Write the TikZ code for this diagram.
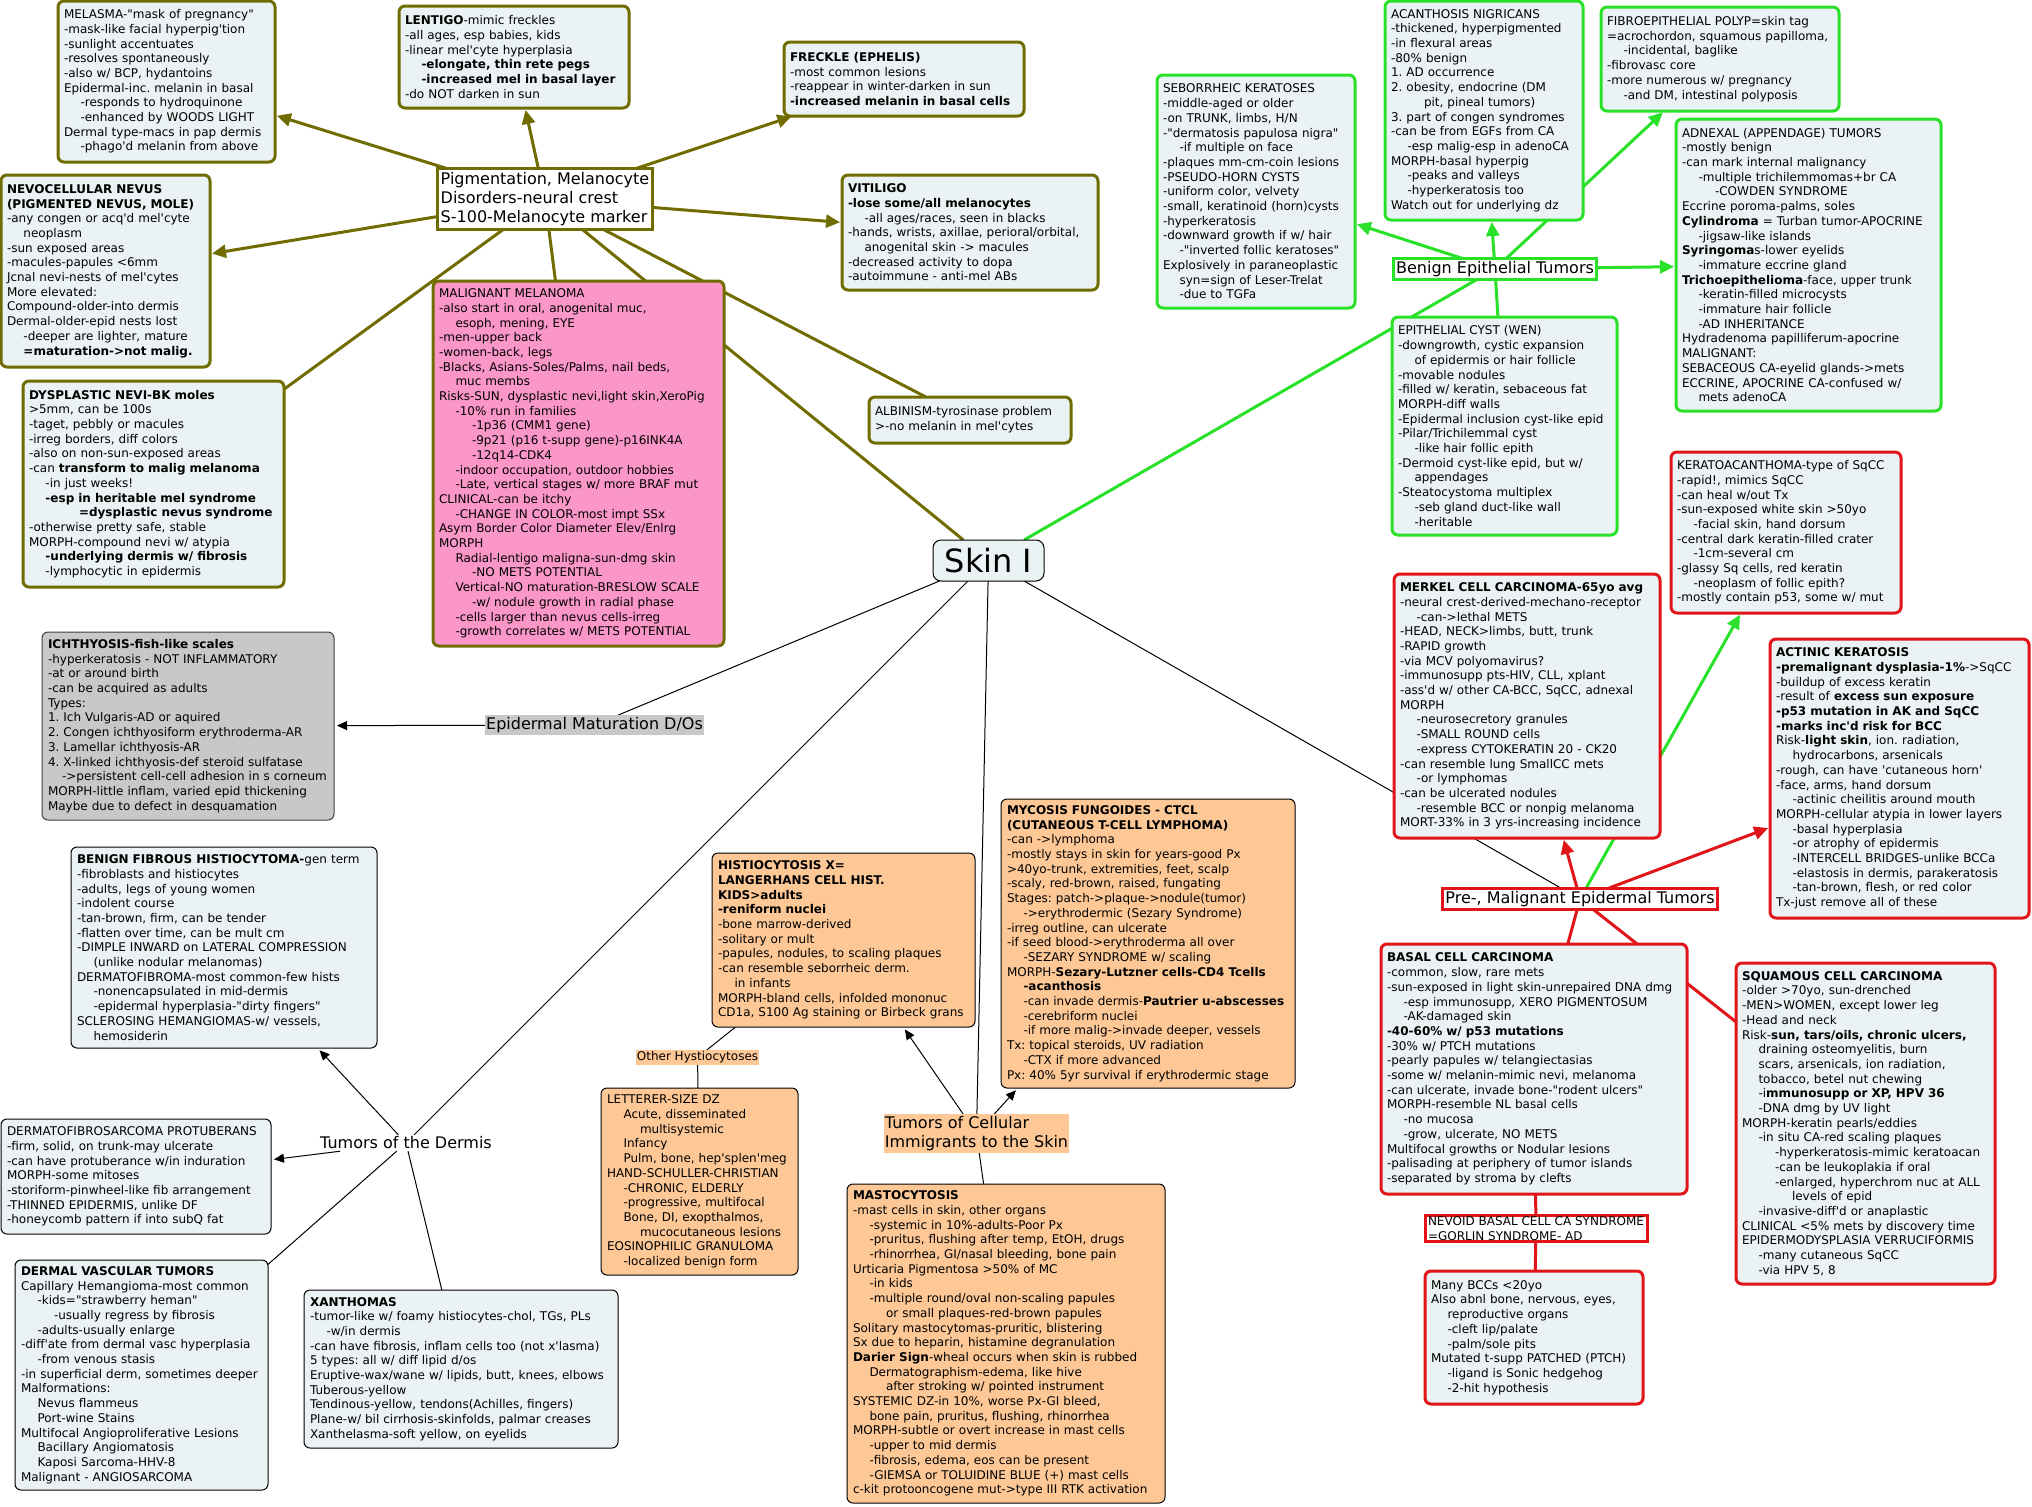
\documentclass[tikz,border=0pt]{standalone}
\usepackage{fontspec}
\setmainfont{DejaVu Sans}[Ligatures=TeXOff]
\usetikzlibrary{arrows.meta}
\definecolor{olv}{RGB}{112,108,0}
\definecolor{boxfill}{RGB}{234,242,244}
\definecolor{pinkfill}{RGB}{250,150,200}
\definecolor{grn}{RGB}{40,225,40}
\definecolor{rd}{RGB}{225,20,25}
\definecolor{orfill}{RGB}{253,200,150}
\definecolor{gyfill}{RGB}{200,200,200}
\newcommand\indA{\hspace*{16.5pt}}
\newcommand\indB{\hspace*{33pt}}
\newcommand\indC{\hspace*{50pt}}
\newcommand\nowrapskip{\rightskip=0pt plus 1fil minus 120pt\relax}
\frenchspacing
\pgfdeclarelayer{bgl}
\pgfdeclarelayer{edgel}
\pgfsetlayers{bgl,edgel,main}
\tikzset{
  bodyf/.style={font=\fontsize{12}{14.7}\selectfont\frenchspacing},
  base/.style={bodyf, rounded corners=6pt, align=left, inner xsep=6pt, inner ysep=3pt, outer sep=0pt, execute at begin node=\nowrapskip},
  box/.style 2 args={anchor=north west, text width=#1pt-12pt, minimum height=#2pt},
  olbox/.style={base, draw=olv, line width=3pt, fill=boxfill},
  pinkbox/.style={base, draw=olv, line width=3pt, fill=pinkfill},
  grbox/.style={base, draw=grn, line width=3pt, fill=boxfill},
  rdbox/.style={base, draw=rd, line width=3pt, fill=boxfill},
  bkbox/.style={base, draw=black, line width=1pt, fill=boxfill},
  orbox/.style={base, draw=black, line width=1pt, fill=orfill},
  gybox/.style={base, draw=black!75, line width=1pt, fill=gyfill},
  lbl/.style={font=\fontsize{16}{19.3}\selectfont, align=left, inner xsep=3pt, inner ysep=3pt, outer sep=0pt},
  ollbl/.style={lbl, draw=olv, line width=3pt, fill=white},
  grlbl/.style={lbl, draw=grn, line width=3pt, fill=white},
  rdlbl/.style={lbl, draw=rd, line width=3pt, fill=white},
  smallrdlbl/.style={font=\fontsize{12}{14.3}\selectfont, align=left, inner xsep=3pt, inner ysep=1.5pt, outer sep=0pt, draw=rd, line width=3pt, fill=white},
  plainlbl/.style={lbl, inner xsep=1pt, inner ysep=2pt},
  smalllbl/.style={bodyf, inner xsep=1pt, inner ysep=1.5pt, outer sep=0pt},
  skinbox/.style={font=\fontsize{32}{36}\selectfont, draw=black, line width=1pt, fill=boxfill, rounded corners=8pt, minimum width=111pt, minimum height=41pt, inner sep=0pt, outer sep=0pt},
  olE/.style={draw=olv, line width=3pt},
  olA/.style={olE, -{Triangle[length=14pt,width=13pt]}, shorten >=2pt},
  grE/.style={draw=grn, line width=3pt},
  grA/.style={grE, -{Triangle[length=14pt,width=13pt]}, shorten >=2pt},
  rdE/.style={draw=rd, line width=3pt},
  rdA/.style={rdE, -{Triangle[length=14pt,width=13pt]}, shorten >=2pt},
  bkE/.style={draw=black, line width=1pt},
  bkA/.style={bkE, -{Triangle[length=10pt,width=9pt]}, shorten >=3pt},
}
\begin{document}
\begin{tikzpicture}[x=1pt,y=-1pt]
\useasboundingbox (0,0) rectangle (2032,1507);
\begin{pgfonlayer}{bgl}
\fill[white] (0,0) rectangle (2032,1507);
\end{pgfonlayer}

% ---------- central ----------
\node[skinbox] (skin) at (988.5,560.5) {Skin I};

% ---------- pigmentation branch ----------
\node[ollbl] (pig) at (545,199) {Pigmentation, Melanocyte\\Disorders-neural crest\\S-100-Melanocyte marker};

\node[olbox, box={217}{161}] (melasma) at (58,1) {MELASMA-"mask of pregnancy"\\-mask-like facial hyperpig'tion\\-sunlight accentuates\\-resolves spontaneously\\-also w/ BCP, hydantoins\\Epidermal-inc. melanin in basal\\\indA-responds to hydroquinone\\\indA-enhanced by WOODS LIGHT\\Dermal type-macs in pap dermis\\\indA-phago'd melanin from above};

\node[olbox, box={230}{102}] (lentigo) at (399,6) {\textbf{LENTIGO}-mimic freckles\\-all ages, esp babies, kids\\-linear mel'cyte hyperplasia\\\indA\textbf{-elongate, thin rete pegs}\\\indA\textbf{-increased mel in basal layer}\\-do NOT darken in sun};

\node[olbox, box={240}{74}] (freckle) at (784,42) {\textbf{FRECKLE (EPHELIS)}\\-most common lesions\\-reappear in winter-darken in sun\\\textbf{-increased melanin in basal cells}};

\node[olbox, box={256}{115}] (vitiligo) at (842,175) {\textbf{VITILIGO}\\\textbf{-lose some/all melanocytes}\\\indA-all ages/races, seen in blacks\\-hands, wrists, axillae, perioral/orbital,\\\indA anogenital skin -> macules\\-decreased activity to dopa\\-autoimmune - anti-mel ABs};

\node[olbox, box={202}{46}] (albinism) at (869,397) {ALBINISM-tyrosinase problem\\>-no melanin in mel'cytes};

\node[olbox, box={209}{192}] (nevo) at (1,175) {\textbf{NEVOCELLULAR NEVUS}\\\textbf{(PIGMENTED NEVUS, MOLE)}\\-any congen or acq'd mel'cyte\\\indA neoplasm\\-sun exposed areas\\-macules-papules <6mm\\Jcnal nevi-nests of mel'cytes\\More elevated:\\Compound-older-into dermis\\Dermal-older-epid nests lost\\\indA-deeper are lighter, mature\\\indA\textbf{=maturation->not malig.}};

\node[olbox, box={261}{206}] (dysp) at (23,381) {\textbf{DYSPLASTIC NEVI-BK moles}\\>5mm, can be 100s\\-taget, pebbly or macules\\-irreg borders, diff colors\\-also on non-sun-exposed areas\\-can \textbf{transform to malig melanoma}\\\indA-in just weeks!\\\indA\textbf{-esp in heritable mel syndrome}\\\indC\textbf{=dysplastic nevus syndrome}\\-otherwise pretty safe, stable\\MORPH-compound nevi w/ atypia\\\indA\textbf{-underlying dermis w/ fibrosis}\\\indA-lymphocytic in epidermis};

\node[pinkbox, box={291}{365}] (mm) at (433,281) {MALIGNANT MELANOMA\\-also start in oral, anogenital muc,\\\indA esoph, mening, EYE\\-men-upper back\\-women-back, legs\\-Blacks, Asians-Soles/Palms, nail beds,\\\indA muc membs\\Risks-SUN, dysplastic nevi,light skin,XeroPig\\\indA-10\% run in families\\\indB-1p36 (CMM1 gene)\\\indB-9p21 (p16 t-supp gene)-p16INK4A\\\indB-12q14-CDK4\\\indA-indoor occupation, outdoor hobbies\\\indA-Late, vertical stages w/ more BRAF mut\\CLINICAL-can be itchy\\\indA-CHANGE IN COLOR-most impt SSx\\Asym Border Color Diameter Elev/Enlrg\\MORPH\\\indA Radial-lentigo maligna-sun-dmg skin\\\indB-NO METS POTENTIAL\\\indA Vertical-NO maturation-BRESLOW SCALE\\\indB-w/ nodule growth in radial phase\\\indA-cells larger than nevus cells-irreg\\\indA-growth correlates w/ METS POTENTIAL};

% ---------- benign epithelial branch ----------
\node[grlbl] (benign) at (1495,269) {Benign Epithelial Tumors};

\node[grbox, box={198}{233}] (sebor) at (1157,75) {SEBORRHEIC KERATOSES\\-middle-aged or older\\-on TRUNK, limbs, H/N\\-"dermatosis papulosa nigra"\\\indA-if multiple on face\\-plaques mm-cm-coin lesions\\-PSEUDO-HORN CYSTS\\-uniform color, velvety\\-small, keratinoid (horn)cysts\\-hyperkeratosis\\-downward growth if w/ hair\\\indA-"inverted follic keratoses"\\Explosively in paraneoplastic\\\indA syn=sign of Leser-Trelat\\\indA-due to TGFa};

\node[grbox, box={198}{219}] (acanth) at (1385,1) {ACANTHOSIS NIGRICANS\\-thickened, hyperpigmented\\-in flexural areas\\-80\% benign\\1. AD occurrence\\2. obesity, endocrine (DM\\\indB pit, pineal tumors)\\3. part of congen syndromes\\-can be from EGFs from CA\\\indA-esp malig-esp in adenoCA\\MORPH-basal hyperpig\\\indA-peaks and valleys\\\indA-hyperkeratosis too\\Watch out for underlying dz};

\node[grbox, box={238}{104}] (fibro) at (1601,7) {FIBROEPITHELIAL POLYP=skin tag\\=acrochordon, squamous papilloma,\\\indA-incidental, baglike\\-fibrovasc core\\-more numerous w/ pregnancy\\\indA-and DM, intestinal polyposis};

\node[grbox, box={265}{292}] (adnexal) at (1676,119) {ADNEXAL (APPENDAGE) TUMORS\\-mostly benign\\-can mark internal malignancy\\\indA-multiple trichilemmomas+br CA\\\indB-COWDEN SYNDROME\\Eccrine poroma-palms, soles\\\textbf{Cylindroma} = Turban tumor-APOCRINE\\\indA-jigsaw-like islands\\\textbf{Syringoma}s-lower eyelids\\\indA-immature eccrine gland\\\textbf{Trichoepithelioma}-face, upper trunk\\\indA-keratin-filled microcysts\\\indA-immature hair follicle\\\indA-AD INHERITANCE\\Hydradenoma papilliferum-apocrine\\MALIGNANT:\\SEBACEOUS CA-eyelid glands->mets\\ECCRINE, APOCRINE CA-confused w/\\\indA mets adenoCA};

\node[grbox, box={225}{218}] (cyst) at (1392,317) {EPITHELIAL CYST (WEN)\\-downgrowth, cystic expansion\\\indA of epidermis or hair follicle\\-movable nodules\\-filled w/ keratin, sebaceous fat\\MORPH-diff walls\\-Epidermal inclusion cyst-like epid\\-Pilar/Trichilemmal cyst\\\indA-like hair follic epith\\-Dermoid cyst-like epid, but w/\\\indA appendages\\-Steatocystoma multiplex\\\indA-seb gland duct-like wall\\\indA-heritable};

% ---------- pre-, malignant branch ----------
\node[rdlbl] (pre) at (1580,899) {Pre-, Malignant Epidermal Tumors};

\node[rdbox, box={230}{161}] (kerato) at (1671,452) {KERATOACANTHOMA-type of SqCC\\-rapid!, mimics SqCC\\-can heal w/out Tx\\-sun-exposed white skin >50yo\\\indA-facial skin, hand dorsum\\-central dark keratin-filled crater\\\indA-1cm-several cm\\-glassy Sq cells, red keratin\\\indA-neoplasm of follic epith?\\-mostly contain p53, some w/ mut};

\node[rdbox, box={266}{264}] (merkel) at (1394,574) {\textbf{MERKEL CELL CARCINOMA-65yo avg}\\-neural crest-derived-mechano-receptor\\\indA-can->lethal METS\\-HEAD, NECK>limbs, butt, trunk\\-RAPID growth\\-via MCV polyomavirus?\\-immunosupp pts-HIV, CLL, xplant\\-ass'd w/ other CA-BCC, SqCC, adnexal\\MORPH\\\indA-neurosecretory granules\\\indA-SMALL ROUND cells\\\indA-express CYTOKERATIN 20 - CK20\\-can resemble lung SmallCC mets\\\indA-or lymphomas\\-can be ulcerated nodules\\\indA-resemble BCC or nonpig melanoma\\MORT-33\% in 3 yrs-increasing incidence};

\node[rdbox, box={259}{279}] (actinic) at (1770,639) {\textbf{ACTINIC KERATOSIS}\\\textbf{-premalignant dysplasia-1\%}->SqCC\\-buildup of excess keratin\\-result of \textbf{excess sun exposure}\\\textbf{-p53 mutation in AK and SqCC}\\\textbf{-marks inc'd risk for BCC}\\Risk-\textbf{light skin}, ion. radiation,\\\indA hydrocarbons, arsenicals\\-rough, can have 'cutaneous horn'\\-face, arms, hand dorsum\\\indA-actinic cheilitis around mouth\\MORPH-cellular atypia in lower layers\\\indA-basal hyperplasia\\\indA-or atrophy of epidermis\\\indA-INTERCELL BRIDGES-unlike BCCa\\\indA-elastosis in dermis, parakeratosis\\\indA-tan-brown, flesh, or red color\\Tx-just remove all of these};

\node[rdbox, box={306}{250}] (bcc) at (1381,944) {\textbf{BASAL CELL CARCINOMA}\\-common, slow, rare mets\\-sun-exposed in light skin-unrepaired DNA dmg\\\indA-esp immunosupp, XERO PIGMENTOSUM\\\indA-AK-damaged skin\\\textbf{-40-60\% w/ p53 mutations}\\-30\% w/ PTCH mutations\\-pearly papules w/ telangiectasias\\-some w/ melanin-mimic nevi, melanoma\\-can ulcerate, invade bone-"rodent ulcers"\\MORPH-resemble NL basal cells\\\indA-no mucosa\\\indA-grow, ulcerate, NO METS\\Multifocal growths or Nodular lesions\\-palisading at periphery of tumor islands\\-separated by stroma by clefts};

\node[smallrdlbl] (nevoid) at (1536,1228.5) {NEVOID BASAL CELL CA SYNDROME\\=GORLIN SYNDROME- AD};

\node[rdbox, box={218}{133}] (manybcc) at (1425,1271) {Many BCCs <20yo\\Also abnl bone, nervous, eyes,\\\indA reproductive organs\\\indA-cleft lip/palate\\\indA-palm/sole pits\\Mutated t-supp PATCHED (PTCH)\\\indA-ligand is Sonic hedgehog\\\indA-2-hit hypothesis};

\node[rdbox, box={259}{321}] (scc) at (1736,963) {\textbf{SQUAMOUS CELL CARCINOMA}\\-older >70yo, sun-drenched\\-MEN>WOMEN, except lower leg\\-Head and neck\\Risk-\textbf{sun, tars/oils, chronic ulcers,}\\\indA draining osteomyelitis, burn\\\indA scars, arsenicals, ion radiation,\\\indA tobacco, betel nut chewing\\\indA-i\textbf{mmunosupp or XP, HPV 36}\\\indA-DNA dmg by UV light\\MORPH-keratin pearls/eddies\\\indA-in situ CA-red scaling plaques\\\indB-hyperkeratosis-mimic keratoacan\\\indB-can be leukoplakia if oral\\\indB-enlarged, hyperchrom nuc at ALL\\\indC levels of epid\\\indA-invasive-diff'd or anaplastic\\CLINICAL <5\% mets by discovery time\\EPIDERMODYSPLASIA VERRUCIFORMIS\\\indA-many cutaneous SqCC\\\indA-via HPV 5, 8};

% ---------- epidermal maturation ----------
\node[plainlbl, fill=gyfill] (epimat) at (594.5,725) {Epidermal Maturation D/Os};

\node[gybox, box={292}{188}] (ichth) at (42,632) {\textbf{ICHTHYOSIS-fish-like scales}\\-hyperkeratosis - NOT INFLAMMATORY\\-at or around birth\\-can be acquired as adults\\Types:\\1. Ich Vulgaris-AD or aquired\\2. Congen ichthyosiform erythroderma-AR\\3. Lamellar ichthyosis-AR\\4. X-linked ichthyosis-def steroid sulfatase\\\hspace*{14pt}->persistent cell-cell adhesion in s corneum\\MORPH-little inflam, varied epid thickening\\Maybe due to defect in desquamation};

% ---------- tumors of the dermis ----------
\node[plainlbl] (dermis) at (406,1143) {Tumors of the Dermis};

\node[bkbox, box={306}{201}] (bfh) at (71,847) {\textbf{BENIGN FIBROUS HISTIOCYTOMA-}gen term\\-fibroblasts and histiocytes\\-adults, legs of young women\\-indolent course\\-tan-brown, firm, can be tender\\-flatten over time, can be mult cm\\-DIMPLE INWARD on LATERAL COMPRESSION\\\indA(unlike nodular melanomas)\\DERMATOFIBROMA-most common-few hists\\\indA-nonencapsulated in mid-dermis\\\indA-epidermal hyperplasia-"dirty fingers"\\SCLEROSING HEMANGIOMAS-w/ vessels,\\\indA hemosiderin};

\node[bkbox, box={270}{115}] (dfsp) at (1,1119) {DERMATOFIBROSARCOMA PROTUBERANS\\-firm, solid, on trunk-may ulcerate\\-can have protuberance w/in induration\\MORPH-some mitoses\\-storiform-pinwheel-like fib arrangement\\-THINNED EPIDERMIS, unlike DF\\-honeycomb pattern if into subQ fat};

\node[bkbox, box={253}{230}] (dvt) at (15,1260) {\textbf{DERMAL VASCULAR TUMORS}\\Capillary Hemangioma-most common\\\indA-kids="strawberry heman"\\\indB-usually regress by fibrosis\\\indA-adults-usually enlarge\\-diff'ate from dermal vasc hyperplasia\\\indA-from venous stasis\\-in superficial derm, sometimes deeper\\Malformations:\\\indA Nevus flammeus\\\indA Port-wine Stains\\Multifocal Angioproliferative Lesions\\\indA Bacillary Angiomatosis\\\indA Kaposi Sarcoma-HHV-8\\Malignant - ANGIOSARCOMA};

\node[bkbox, box={314}{158}] (xanth) at (304,1290) {\textbf{XANTHOMAS}\\-tumor-like w/ foamy histiocytes-chol, TGs, PLs\\\indA-w/in dermis\\-can have fibrosis, inflam cells too (not x'lasma)\\5 types: all w/ diff lipid d/os\\Eruptive-wax/wane w/ lipids, butt, knees, elbows\\Tuberous-yellow\\Tendinous-yellow, tendons(Achilles, fingers)\\Plane-w/ bil cirrhosis-skinfolds, palmar creases\\Xanthelasma-soft yellow, on eyelids};

% ---------- cellular immigrants ----------
\node[plainlbl, fill=orfill] (immig) at (976.5,1133.5) {Tumors of Cellular\\Immigrants to the Skin};

\node[orbox, box={263}{174}] (histio) at (712,853) {\textbf{HISTIOCYTOSIS X=}\\\textbf{LANGERHANS CELL HIST.}\\\textbf{KIDS>adults}\\\textbf{-reniform nuclei}\\-bone marrow-derived\\-solitary or mult\\-papules, nodules, to scaling plaques\\-can resemble seborrheic derm.\\\indA in infants\\MORPH-bland cells, infolded mononuc\\CD1a, S100 Ag staining or Birbeck grans};

\node[smalllbl, fill=orfill] (otherh) at (697.5,1057.5) {Other Hystiocytoses};

\node[orbox, box={197}{187}] (letterer) at (601,1088) {LETTERER-SIZE DZ\\\indA Acute, disseminated\\\indB multisystemic\\\indA Infancy\\\indA Pulm, bone, hep'splen'meg\\HAND-SCHULLER-CHRISTIAN\\\indA-CHRONIC, ELDERLY\\\indA-progressive, multifocal\\\indA Bone, DI, exopthalmos,\\\indB mucocutaneous lesions\\EOSINOPHILIC GRANULOMA\\\indA-localized benign form};

\node[orbox, box={294}{289}] (mycosis) at (1001,799) {\textbf{MYCOSIS FUNGOIDES - CTCL}\\\textbf{(CUTANEOUS T-CELL LYMPHOMA)}\\-can ->lymphoma\\-mostly stays in skin for years-good Px\\>40yo-trunk, extremities, feet, scalp\\-scaly, red-brown, raised, fungating\\Stages: patch->plaque->nodule(tumor)\\\indA->erythrodermic (Sezary Syndrome)\\-irreg outline, can ulcerate\\-if seed blood->erythroderma all over\\\indA-SEZARY SYNDROME w/ scaling\\MORPH-\textbf{Sezary-Lutzner cells-CD4 Tcells}\\\indA\textbf{-acanthosis}\\\indA-can invade dermis-\textbf{Pautrier u-abscesses}\\\indA-cerebriform nuclei\\\indA-if more malig->invade deeper, vessels\\Tx: topical steroids, UV radiation\\\indA-CTX if more advanced\\Px: 40\% 5yr survival if erythrodermic stage};

\node[orbox, box={318}{319}] (masto) at (847,1184) {\textbf{MASTOCYTOSIS}\\-mast cells in skin, other organs\\\indA-systemic in 10\%-adults-Poor Px\\\indA-pruritus, flushing after temp, EtOH, drugs\\\indA-rhinorrhea, GI/nasal bleeding, bone pain\\Urticaria Pigmentosa >50\% of MC\\\indA-in kids\\\indA-multiple round/oval non-scaling papules\\\indB or small plaques-red-brown papules\\Solitary mastocytomas-pruritic, blistering\\Sx due to heparin, histamine degranulation\\\textbf{Darier Sign}-wheal occurs when skin is rubbed\\\indA Dermatographism-edema, like hive\\\indB after stroking w/ pointed instrument\\SYSTEMIC DZ-in 10\%, worse Px-GI bleed,\\\indA bone pain, pruritus, flushing, rhinorrhea\\MORPH-subtle or overt increase in mast cells\\\indA-upper to mid dermis\\\indA-fibrosis, edema, eos can be present\\\indA-GIEMSA or TOLUIDINE BLUE (+) mast cells\\c-kit protooncogene mut->type III RTK activation};

% ---------- connectors ----------
\begin{pgfonlayer}{edgel}
\draw[olA] (pig) -- (melasma);
\draw[olA] (pig) -- (lentigo);
\draw[olA] (pig) -- (freckle);
\draw[olA] (pig) -- (nevo);
\draw[olA] (pig) -- (vitiligo);
\draw[olE] (pig) -- (dysp);
\draw[olE] (pig) -- (mm);
\draw[olE] (pig) -- (albinism);
\draw[olE] (pig) -- (skin);

\draw[grE] (skin) -- (benign);
\draw[grA] (benign) -- (sebor);
\draw[grA] (benign) -- (acanth);
\draw[grA] (benign) -- (fibro);
\draw[grA] (benign) -- (adnexal);
\draw[grE] (benign) -- (cyst);

\draw[bkE] (skin) -- (pre);
\draw[rdA] (pre) -- (merkel);
\draw[grA] (pre) -- (kerato);
\draw[rdA] (pre) -- (actinic);
\draw[rdE] (pre) -- (bcc);
\draw[rdE] (pre) -- (scc);
\draw[rdE] (bcc) -- (nevoid);
\draw[rdE] (nevoid) -- (manybcc);

\draw[bkE] (skin) -- (epimat);
\draw[bkA] (epimat) -- (ichth);

\draw[bkE] (skin) -- (dermis);
\draw[bkA] (dermis) -- (bfh);
\draw[bkA] (dermis) -- (dfsp);
\draw[bkE] (dermis) -- (dvt);
\draw[bkE] (dermis) -- (xanth);

\draw[bkE] (skin) -- (immig);
\draw[bkA] (immig) -- (histio);
\draw[bkA] (immig) -- (mycosis);
\draw[bkE] (immig) -- (masto);
\draw[bkE] (histio) -- (otherh);
\draw[bkE] (otherh) -- (letterer);
\end{pgfonlayer}
\end{tikzpicture}
\end{document}
